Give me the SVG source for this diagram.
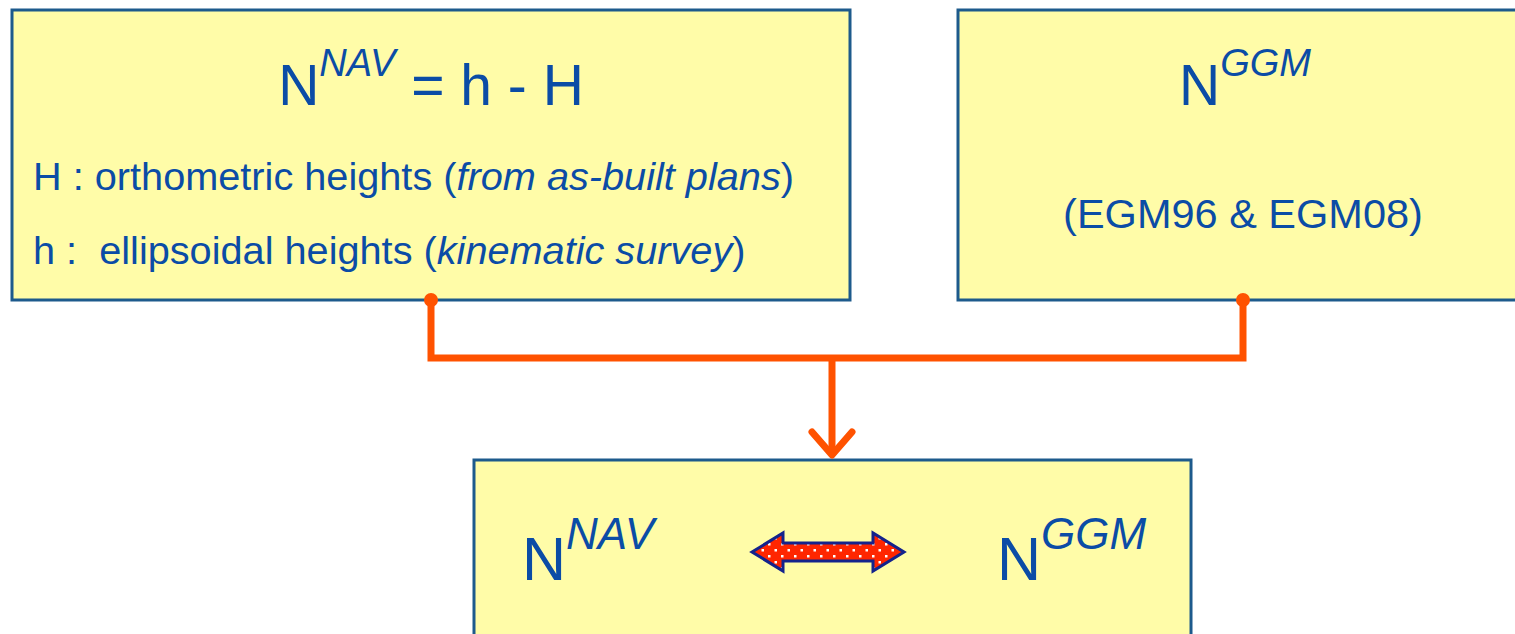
<svg xmlns="http://www.w3.org/2000/svg" width="1515" height="634" viewBox="0 0 1515 634">
  <style>
    .box { fill: #FFFCA8; stroke: #1D5A8C; stroke-width: 3; }
    .txt { font-family: "Liberation Sans", Arial, sans-serif; fill: #0B4CA6; }
    .it { font-style: italic; }
    .wire { fill: none; stroke: #FF5200; stroke-width: 7; }
    .dot { fill: #FF5200; }
  </style>
  <defs>
    <pattern id="dots" x="754" y="542" width="13" height="12" patternUnits="userSpaceOnUse">
      <rect width="13" height="12" fill="#FF2600"/>
      <rect x="1" y="1" width="2.5" height="2.5" fill="#FFFFFF"/>
      <rect x="7.5" y="7" width="2.5" height="2.5" fill="#FFFFFF"/>
    </pattern>
  </defs>

  <!-- navigation-derived undulation -->
  <g id="node-nav">
    <rect class="box" x="12" y="10" width="838" height="290"/>
    <text class="txt" x="431" y="105" font-size="57" text-anchor="middle">N<tspan class="it" font-size="38" dy="-29">NAV</tspan><tspan dy="29"> = h - H</tspan></text>
    <text class="txt" x="33" y="190" font-size="39.7">H : orthometric heights (<tspan class="it">from as-built plans</tspan>)</text>
    <text class="txt" x="33" y="264" font-size="39.7">h :&#160; ellipsoidal heights (<tspan class="it">kinematic survey</tspan>)</text>
  </g>

  <!-- global geopotential model undulation -->
  <g id="node-ggm">
    <rect class="box" x="958" y="10" width="580" height="290"/>
    <text class="txt" x="1245" y="105" font-size="57" text-anchor="middle">N<tspan class="it" font-size="38" dy="-29">GGM</tspan></text>
    <text class="txt" x="1243" y="228" font-size="41.5" text-anchor="middle">(EGM96 &amp; EGM08)</text>
  </g>

  <!-- comparison -->
  <g id="node-compare">
    <rect class="box" x="474" y="460" width="717" height="200"/>
    <text class="txt" x="522" y="580" font-size="61">N<tspan class="it" font-size="44" dy="-31">NAV</tspan></text>
    <text class="txt" x="997" y="580" font-size="61">N<tspan class="it" font-size="44" dy="-31">GGM</tspan></text>
    <polygon points="752,552 783,533 783,543 873,543 873,533 904,552 873,571 873,561 783,561 783,571" fill="url(#dots)" stroke="#14238C" stroke-width="3" stroke-linejoin="miter"/>
  </g>

  <g id="connectors">
    <circle class="dot" cx="431" cy="300" r="7"/>
    <circle class="dot" cx="1243" cy="300" r="7"/>
    <polyline class="wire" points="431,300 431,358 1243,358 1243,300"/>
    <line class="wire" x1="832" y1="358" x2="832" y2="454"/>
    <polyline class="wire" points="812,432 832,455 852,432" stroke-linecap="round" stroke-linejoin="round"/>
  </g>
</svg>
